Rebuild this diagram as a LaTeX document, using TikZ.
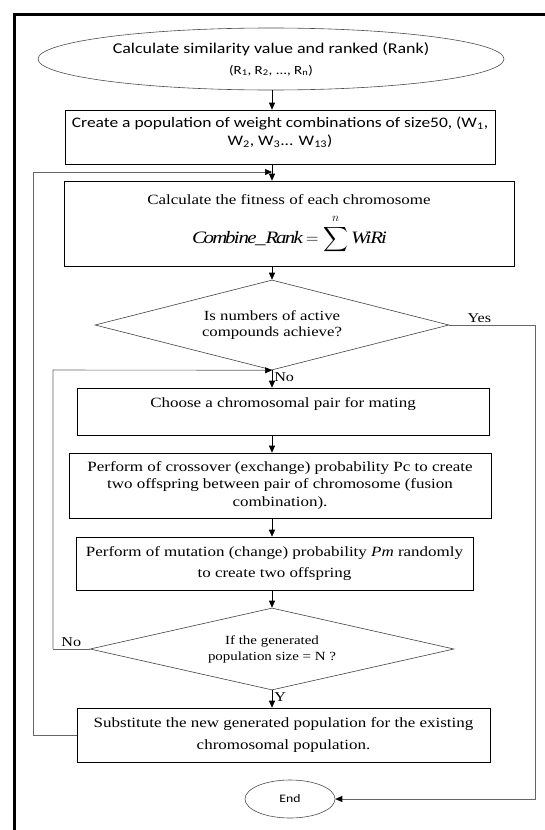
\documentclass[tikz,border=0pt]{standalone}
\usepackage{amsmath}
\usepackage{exscale}
\usepackage{fontspec}
\setmainfont{Liberation Serif}[FakeStretch=1.2]
\newfontfamily\calibri{Carlito}[FakeStretch=1.2]
\usetikzlibrary{arrows.meta,shapes.geometric}

\begin{document}
\begin{tikzpicture}[x=1bp, y=-1bp,
  every node/.style={font=\fontsize{14.2}{17.5}\selectfont},
  pbox/.style={draw=black, line width=0.6pt, inner sep=0pt, align=center},
  sbox/.style={pbox, font=\calibri\fontsize{14.6}{18}\selectfont},
  oval/.style={ellipse, pbox, draw=black!70, font=\calibri\fontsize{15}{17}\selectfont},
  dbox/.style={diamond, aspect=4, draw=black!75, line width=0.6pt, inner sep=0pt,
               align=center, font=\fontsize{14}{16.5}\selectfont},
  flow/.style={-{Triangle[length=7pt,width=6pt,color=black]}, line width=0.6pt},
  back/.style={draw=black!60, line width=0.8pt},
  tag/.style={font=\fontsize{13.5}{15}\selectfont, inner sep=2pt}]

  \useasboundingbox (0,0) rectangle (545,830);
  \draw[line width=3bp] (14,830) -- (14,14) -- (545,14);
  \coordinate (axis) at (272,0);

  % main column
  \node[oval, minimum width=466bp, minimum height=62bp] (start) at (271,59)
    {Calculate similarity value and ranked (Rank)\\[4pt]
     {\fontsize{12.5}{13}\selectfont(R\textsubscript{1}, R\textsubscript{2}, ..., R\textsubscript{n})}};
  \node[sbox, minimum width=430bp, minimum height=54bp, text depth=12pt] (pop) at (280,137)
    {Create a population of weight combinations of size50, (W\textsubscript{1},\\
     W\textsubscript{2}, W\textsubscript{3}... W\textsubscript{13})};
  \node[pbox, minimum width=450bp, minimum height=85bp] (fit) at (289,223.5)
    {Calculate the fitness of each chromosome\\[10pt]
     {\fontsize{17.5}{20}\selectfont$\displaystyle \mathit{Combine\_Rank}=\sum^{n}\mathit{WiRi}$}};
  \node[dbox, minimum width=354bp, minimum height=90bp] (dec1) at (272,325)
    {Is numbers of active\\compounds achieve?};
  \node[pbox, minimum width=412bp, minimum height=47bp] (pair) at (283,411.5)
    {Choose a chromosomal pair for mating\\\mbox{}};
  \node[pbox, minimum width=422bp, minimum height=65bp] (cross) at (280,485.5)
    {Perform of crossover (exchange) probability Pc to create\\
     two offspring between pair of chromosome (fusion\\combination).};
  \node[pbox, minimum width=397bp, minimum height=53bp] (mut) at (274.5,563.5)
    {Perform of mutation (change) probability \textit{Pm} randomly\\[4pt]
     to create two offspring};
  \node[dbox, minimum width=364bp, minimum height=82bp, font=\fontsize{12.5}{16}\selectfont]
    (dec2) at (272,649) {If the generated\\population size = N ?};
  \node[pbox, minimum width=413bp, minimum height=54bp] (subst) at (283.5,735)
    {Substitute the new generated population for the existing\\[4pt]
     chromosomal population.};
  \node[oval, minimum width=90bp, minimum height=38bp, font=\calibri\fontsize{11.5}{14}\selectfont]
    (end) at (290,799) {End};

  \draw[flow] (axis |- start.south) -- (axis |- pop.north);
  \draw[flow] (axis |- pop.south) -- (axis |- fit.north);
  \draw[flow] (axis |- fit.south) -- (dec1.north);
  \draw[flow] (dec1.south) -- node[tag, right, pos=0.4] {No} (axis |- pair.north);
  \draw[flow] (axis |- pair.south) -- (axis |- cross.north);
  \draw[flow] (axis |- cross.south) -- (axis |- mut.north);
  \draw[flow] (axis |- mut.south) -- (dec2.north);
  \draw[flow] (dec2.south) -- node[tag, right, pos=0.4] {Y} (axis |- subst.north);

  % loops back
  \coordinate (lp1) at (33,172);
  \coordinate (lp2) at (53,370);
  \coordinate (yes) at (535,325);
  \draw[back, flow] (subst.west) -| (lp1) -- (axis |- lp1);
  \draw[back] (dec2.west) -- node[tag, above] {No} (lp2 |- dec2.west);
  \draw[back, flow] (lp2 |- dec2.west) -- (lp2) -- (dec1.south);
  \draw[back] (dec1.east) -- node[tag, above, pos=0.35] {Yes} (yes);
  \draw[back, flow] (yes) |- (end.east);
\end{tikzpicture}
\end{document}
